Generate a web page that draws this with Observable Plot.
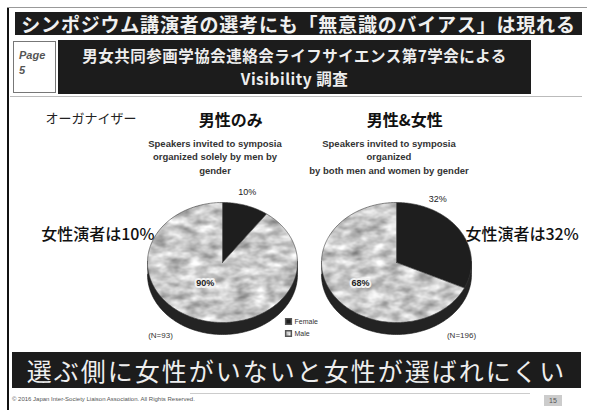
<!DOCTYPE html>
<html><head><meta charset="utf-8">
<script src="https://cdn.jsdelivr.net/npm/d3@7"></script>
<script src="https://cdn.jsdelivr.net/npm/@observablehq/plot@0.6"></script>
<style>
html,body{margin:0;padding:0;background:#fff;}
body{width:589px;height:410px;overflow:hidden;position:relative;font-family:"Noto Sans CJK JP","Noto Sans",sans-serif;}
#chart{position:absolute;left:0;top:0;width:589px;height:410px;}
.abs{position:absolute;box-sizing:border-box;}
.bar{background:#1c1c1c;color:#fff;text-align:center;white-space:nowrap;}
#frameL{left:7px;top:7px;width:2px;height:403px;background:#111;}
#frameT{left:7px;top:7px;width:580px;height:1px;background:#999;}
#title{left:15px;top:12px;width:567px;height:23px;font-size:19px;line-height:23px;letter-spacing:0.8px;font-weight:bold;color:#f0f0f0;}
#page{left:13px;top:41px;width:43px;height:52px;background:#fff;border:1px solid #777;font-size:11px;line-height:15px;color:#555;font-style:italic;padding:6px 0 0 5px;font-family:"Liberation Sans",sans-serif;font-weight:bold;}
#sub{left:58px;top:40px;width:473px;height:54px;font-size:15.5px;line-height:23px;padding-top:4px;letter-spacing:0.5px;font-weight:bold;color:#eee;}
#rule{left:10px;top:96px;width:572px;height:1px;background:#bbb;}
#concl{left:12px;top:352px;width:569px;height:36px;font-size:25px;line-height:36px;letter-spacing:2px;color:#eee;}
#foot{left:12px;top:396px;font-size:6px;color:#555;font-family:"Liberation Sans",sans-serif;}
#pnum{left:544px;top:395px;width:18px;height:11px;background:#ccc;font-size:7px;color:#555;text-align:center;line-height:11px;font-family:"Liberation Sans",sans-serif;}
#rule2{left:190px;top:393px;width:340px;height:1px;background:#ccc;}
</style></head><body>
<div id="chart"></div>
<div class="abs" id="frameL"></div>
<div class="abs" id="frameT"></div>
<div class="abs bar" id="title">シンポジウム講演者の選考にも「無意識のバイアス」は現れる</div>
<div class="abs" id="page">Page<br>5</div>
<div class="abs bar" id="sub">男女共同参画学協会連絡会ライフサイエンス第7学会による<br>Visibility 調査</div>
<div class="abs" id="rule"></div>
<div class="abs bar" id="concl">選ぶ側に女性がいないと女性が選ばれにくい</div>
<div class="abs" id="rule2"></div>
<div class="abs" id="foot">© 2016 Japan Inter-Society Liaison Association. All Rights Reserved.</div>
<div class="abs" id="pnum">15</div>
<script>
// ---- data ----
const groups = ["男性のみ", "男性&女性"];
const genders = ["Female", "Male"];
const femalePct = [10, 32];
const malePct = [90, 68];
const sampleSizes = ["(N=93)", "(N=196)"];
const callouts = ["女性演者は10%", "女性演者は32%"];
const descLines1 = ["Speakers invited to symposia", "organized solely by men by", "gender"];
const descLines2 = ["Speakers invited to symposia", "organized", "by both men and women by gender"];
const organizerLabel = "オーガナイザー";

// ---- layout ----
const W = 589, H = 410;
const CX0 = 222, CY = 262, RX = 75, RY = 60, DEPTH = 12;
const px = v => (v - CX0) / RX;
const py = v => (CY - v) / RY;
const centers = [0, px(396)];

const slices = [];
groups.forEach((g, i) => {
  const vals = [femalePct[i], malePct[i]];
  const arcs = d3.pie().sort(null).value(d => d)(vals);
  arcs.forEach((a, j) => {
    const key = g + "-" + genders[j];
    const gender = genders[j];
    slices.push({key, gender, x: centers[i], y: 0});
    const n = Math.max(2, Math.ceil((a.endAngle - a.startAngle) / 0.02));
    for (let k = 0; k <= n; k++) {
      const t = a.startAngle + (a.endAngle - a.startAngle) * k / n;
      slices.push({key, gender, x: centers[i] + Math.sin(t), y: Math.cos(t)});
    }
    slices.push({key, gender, x: centers[i], y: 0});
  });
});

// side (thickness) polygon of each 3D pie
const side = [];
groups.forEach((g, i) => {
  const d = DEPTH / RY;
  for (let k = 0; k <= 120; k++) {
    const t = Math.PI + Math.PI * k / 120;
    side.push({pie: g, x: centers[i] + Math.cos(t), y: Math.sin(t) + 0.02});
  }
  for (let k = 120; k >= 0; k--) {
    const t = Math.PI + Math.PI * k / 120;
    side.push({pie: g, x: centers[i] + Math.cos(t), y: Math.sin(t) - d});
  }
});

const outerOff = [[0.33, 1.17], [0.55, 1.05]];
const innerOff = [[-0.23, -0.35], [-0.48, -0.35]];
const outerLabels = femalePct.map((v, i) => ({t: v + "%", x: centers[i] + outerOff[i][0], y: outerOff[i][1]}));
const innerLabels = malePct.map((v, i) => ({t: v + "%", x: centers[i] + innerOff[i][0], y: innerOff[i][1]}));
const descData = [];
[descLines1, descLines2].forEach((lines, i) => lines.forEach((l, k) =>
  descData.push({t: l, x: centers[i] - 0.1, y: py(143 + 13.5 * k)})));
const titleData = groups.map((g, i) => ({t: g, x: centers[i] + 0.11, y: py(120)}));
const nData = sampleSizes.map((s, i) => ({t: s, x: i === 0 ? px(160) : px(461), y: py(335)}));
const legendData = genders.map((g, k) => ({g, x: px(288), y: py(321 + 12 * k)}));

const fam = '"Noto Sans CJK JP", sans-serif';
const chart = Plot.plot({
  width: W, height: H, margin: 0,
  x: {domain: [px(0), px(W)], range: [0, W], axis: null},
  y: {domain: [py(H), py(0)], range: [H, 0], axis: null},
  color: {domain: genders, range: ["#1e1e1e", "url(#marble)"]},
  style: {background: "transparent", fontFamily: fam, overflow: "visible"},
  marks: [
    Plot.line(side, {x: "x", y: "y", z: "pie", fill: "#232323", stroke: "#111", strokeWidth: 0.6}),
    Plot.line(slices, {x: "x", y: "y", z: "key", fill: "gender", stroke: "#3a3a3a", strokeWidth: 0.6}),
    Plot.text(titleData, {x: "x", y: "y", text: "t", fontSize: 16, fontWeight: "bold", fill: "#111"}),
    Plot.text(descData, {x: "x", y: "y", text: "t", fontSize: 9.5, fill: "#333", fontFamily: "Liberation Sans, sans-serif", fontWeight: "bold"}),
    Plot.text([organizerLabel], {x: px(45), y: py(118), text: d => d, textAnchor: "start", fontSize: 13, fill: "#222"}),
    Plot.text(outerLabels, {x: "x", y: "y", text: "t", fontSize: 9, fill: "#222", fontFamily: "Liberation Sans, sans-serif"}),
    Plot.text(innerLabels, {x: "x", y: "y", text: "t", fontSize: 9, fill: "#222", stroke: "#f2f2f2", strokeWidth: 4, fontFamily: "Liberation Sans, sans-serif", fontWeight: "bold"}),
    Plot.text([callouts[0]], {x: px(154), y: py(234), text: d => d, textAnchor: "end", fontSize: 16, fontWeight: 500, fill: "#111"}),
    Plot.text([callouts[1]], {x: px(465), y: py(234), text: d => d, textAnchor: "start", fontSize: 16, fontWeight: 500, fill: "#111"}),
    Plot.text(nData, {x: "x", y: "y", text: "t", fontSize: 8, fill: "#333", fontFamily: "Liberation Sans, sans-serif"}),
    Plot.dot(legendData, {x: "x", y: "y", fill: "g", stroke: "#555", symbol: "square", r: 3.2}),
    Plot.text(legendData, {x: "x", y: "y", text: "g", dx: 6, textAnchor: "start", fontSize: 7, fill: "#333", fontFamily: "Liberation Sans, sans-serif"})
  ]
});
// marbled grey texture for the "Male" slices
const ns = "http://www.w3.org/2000/svg";
const defs = document.createElementNS(ns, "defs");
defs.innerHTML = `
<filter id="noise" x="0" y="0" width="100%" height="100%" color-interpolation-filters="sRGB">
  <feTurbulence type="fractalNoise" baseFrequency="0.06 0.12" numOctaves="3" seed="4"/>
  <feColorMatrix type="matrix" values="0.7 0 0 0 0.44  0.7 0 0 0 0.44  0.7 0 0 0 0.44  0 0 0 0 1"/>
</filter>
<pattern id="marble" patternUnits="userSpaceOnUse" x="0" y="0" width="${W}" height="${H}">
  <rect width="${W}" height="${H}" fill="#c6c6c6" filter="url(#noise)"/>
</pattern>`;
chart.insertBefore(defs, chart.firstChild);
document.getElementById("chart").appendChild(chart);
</script>
</body></html>
